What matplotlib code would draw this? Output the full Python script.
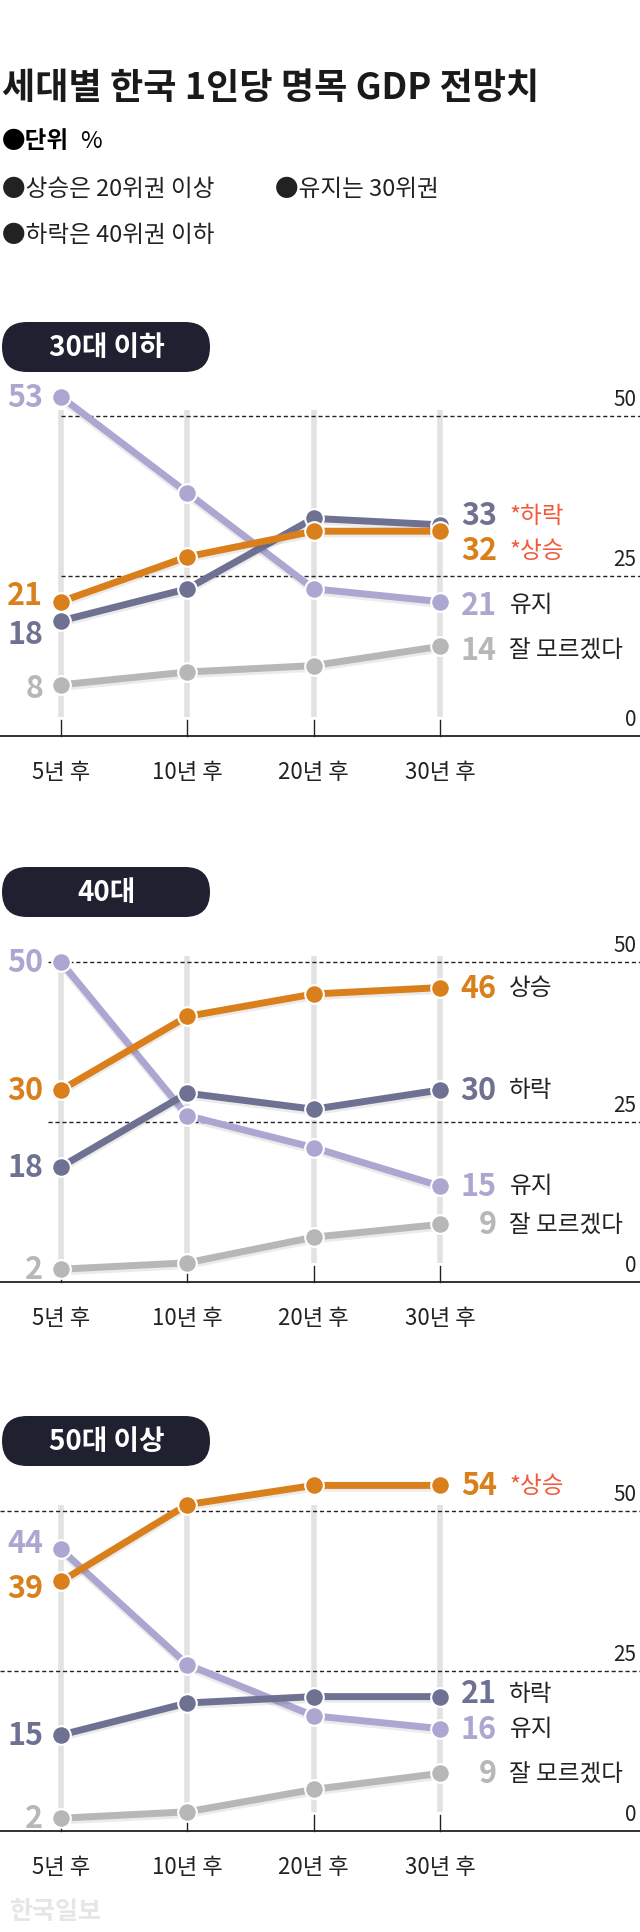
import matplotlib.pyplot as plt
import matplotlib.patheffects as pe
from matplotlib.patches import FancyBboxPatch

plt.rcParams['font.family'] = ['Noto Sans CJK KR', 'DejaVu Sans']

periods = ['5년 후', '10년 후', '20년 후', '30년 후']

# 하락, 상승, 유지, 잘 모르겠다
young_down = [18, 23, 34, 33]
young_up = [21, 28, 32, 32]
young_keep = [53, 38, 23, 21]
young_dk = [8, 10, 11, 14]

mid_down = [18, 29.5, 27, 30]
mid_up = [30, 41.5, 45, 46]
mid_keep = [50, 26, 21, 15]
mid_dk = [2, 3, 7, 9]

old_down = [15, 20, 21, 21]
old_up = [39, 51, 54, 54]
old_keep = [44, 26, 18, 16]
old_dk = [2, 3, 6.5, 9]

C_DOWN = '#6f7192'
C_UP = '#d9801c'
C_KEEP = '#aca7d0'
C_DK = '#b7b7b7'
C_RED = '#f05a3a'

W, H = 640, 1933
fig = plt.figure(figsize=(W / 100, H / 100), dpi=100)
fig.patch.set_facecolor('white')

def ftext(x, y, s, **kw):
    fig.text(x / W, 1 - y / H, s, **kw)

ftext(2, 89, '세대별 한국 1인당 명목 GDP 전망치', fontsize=26, fontweight='bold', va='center', color='#1a1a1a')
ftext(2, 141, '●단위', fontsize=17, fontweight='bold', va='center')
ftext(80, 141, '%', fontsize=17, va='center')
ftext(2, 189, '●상승은 20위권 이상', fontsize=17, va='center', color='#222222')
ftext(275, 189, '●유지는 30위권', fontsize=17, va='center', color='#222222')
ftext(2, 235, '●하락은 40위권 이하', fontsize=17, va='center', color='#222222')

x_pos = [61, 187, 313, 440]
unit = 126.3
xl = (-61 / unit, (640 - 61) / unit)
ppu = 6.4
ymax = 58

panels = [
    ('30대 이하', 737, 348, young_down, young_up, young_keep, young_dk,
     [('33', '*하락', C_DOWN, C_RED, 34.5), ('32', '*상승', C_UP, C_RED, 29),
      ('21', '유지', C_KEEP, '#222222', 20.5), ('14', '잘 모르겠다', C_DK, '#222222', 13.5)],
     [(53, C_KEEP, 53), (21, C_UP, 22), (18, C_DOWN, 16), (8, C_DK, 7.5)], 0.0),
    ('40대', 1283, 893, mid_down, mid_up, mid_keep, mid_dk,
     [('46', '상승', C_UP, '#222222', 46), ('30', '하락', C_DOWN, '#222222', 30),
      ('15', '유지', C_KEEP, '#222222', 15), ('9', '잘 모르겠다', C_DK, '#222222', 9)],
     [(50, C_KEEP, 50), (30, C_UP, 30), (18, C_DOWN, 18), (2, C_DK, 2)], -0.1),
    ('50대 이상', 1832, 1442, old_down, old_up, old_keep, old_dk,
     [('54', '*상승', C_UP, C_RED, 54), ('21', '하락', C_DOWN, '#222222', 21.5),
      ('16', '유지', C_KEEP, '#222222', 16), ('9', '잘 모르겠다', C_DK, '#222222', 9)],
     [(44, C_KEEP, 45), (39, C_UP, 38), (15, C_DOWN, 15), (2, C_DK, 2)], xl[0]),
]

for (name, base, pill_y, down, up, keep, dk, right_labels, left_labels, dash_start) in panels:
    ax = fig.add_axes([0, 1 - (base + 12) / H, 1, (ymax * ppu + 12) / H])
    ax.set_xlim(*xl)
    ax.set_ylim(-12 / ppu, ymax)
    ax.axis('off')

    for i in range(4):
        ax.plot([i, i], [3, 51], color='#e2e2e2', lw=4, zorder=1, solid_capstyle='butt')
        ax.plot([i, i], [0, 2.5], color='#222222', lw=1, zorder=1.5)
    ax.axhline(0, color='#222222', lw=1.3, zorder=1.5)
    for v in (25, 50):
        ax.plot([dash_start, xl[1]], [v, v], color='#222222', lw=1, ls=(0, (3, 2)), zorder=1.5)
        ax.text(xl[1] - 0.03, v + 1, str(v), ha='right', va='bottom', fontsize=15, color='#222222')
    ax.text(xl[1] - 0.03, 1, '0', ha='right', va='bottom', fontsize=15, color='#222222')

    for vals, c in ((dk, C_DK), (keep, C_KEEP), (down, C_DOWN), (up, C_UP)):
        ax.plot(range(4), vals, color=c, lw=5, zorder=3,
                path_effects=[pe.SimpleLineShadow(offset=(0, -2), alpha=0.08), pe.Normal()])
        ax.scatter(range(4), vals, s=180, color=c, edgecolor='white', linewidth=1.5, zorder=4, clip_on=False)

    for num, lab, nc, lc, yv in right_labels:
        ax.text(3.45, yv, num, ha='right', va='center', fontsize=22, fontweight='bold', color=nc, zorder=5)
        ax.text(3.55, yv, lab, ha='left', va='center', fontsize=17, color=lc, zorder=5)
    for num, c, yv in left_labels:
        ax.text(-0.14, yv, str(num), ha='right', va='center', fontsize=22, fontweight='bold', color=c, zorder=5)

    for i, p in enumerate(periods):
        ax.text(i, -36 / ppu, p, ha='center', va='center', fontsize=16, color='#222222', clip_on=False)

    pax = fig.add_axes([0, 1 - (pill_y + 26) / H, 1, 52 / H])
    pax.set_xlim(0, W)
    pax.set_ylim(0, 52)
    pax.axis('off')
    pax.add_patch(FancyBboxPatch((2, 1), 208, 50, boxstyle='round,pad=0,rounding_size=25',
                                 fc='#1f2030', ec='none'))
    pax.text(107, 26, name, ha='center', va='center', fontsize=20, fontweight='bold', color='white')

ftext(10, 1912, '한국일보', fontsize=18, fontweight='bold', va='center', color='#e6e6e6')

fig.savefig('out.png', dpi=100, facecolor='white')
